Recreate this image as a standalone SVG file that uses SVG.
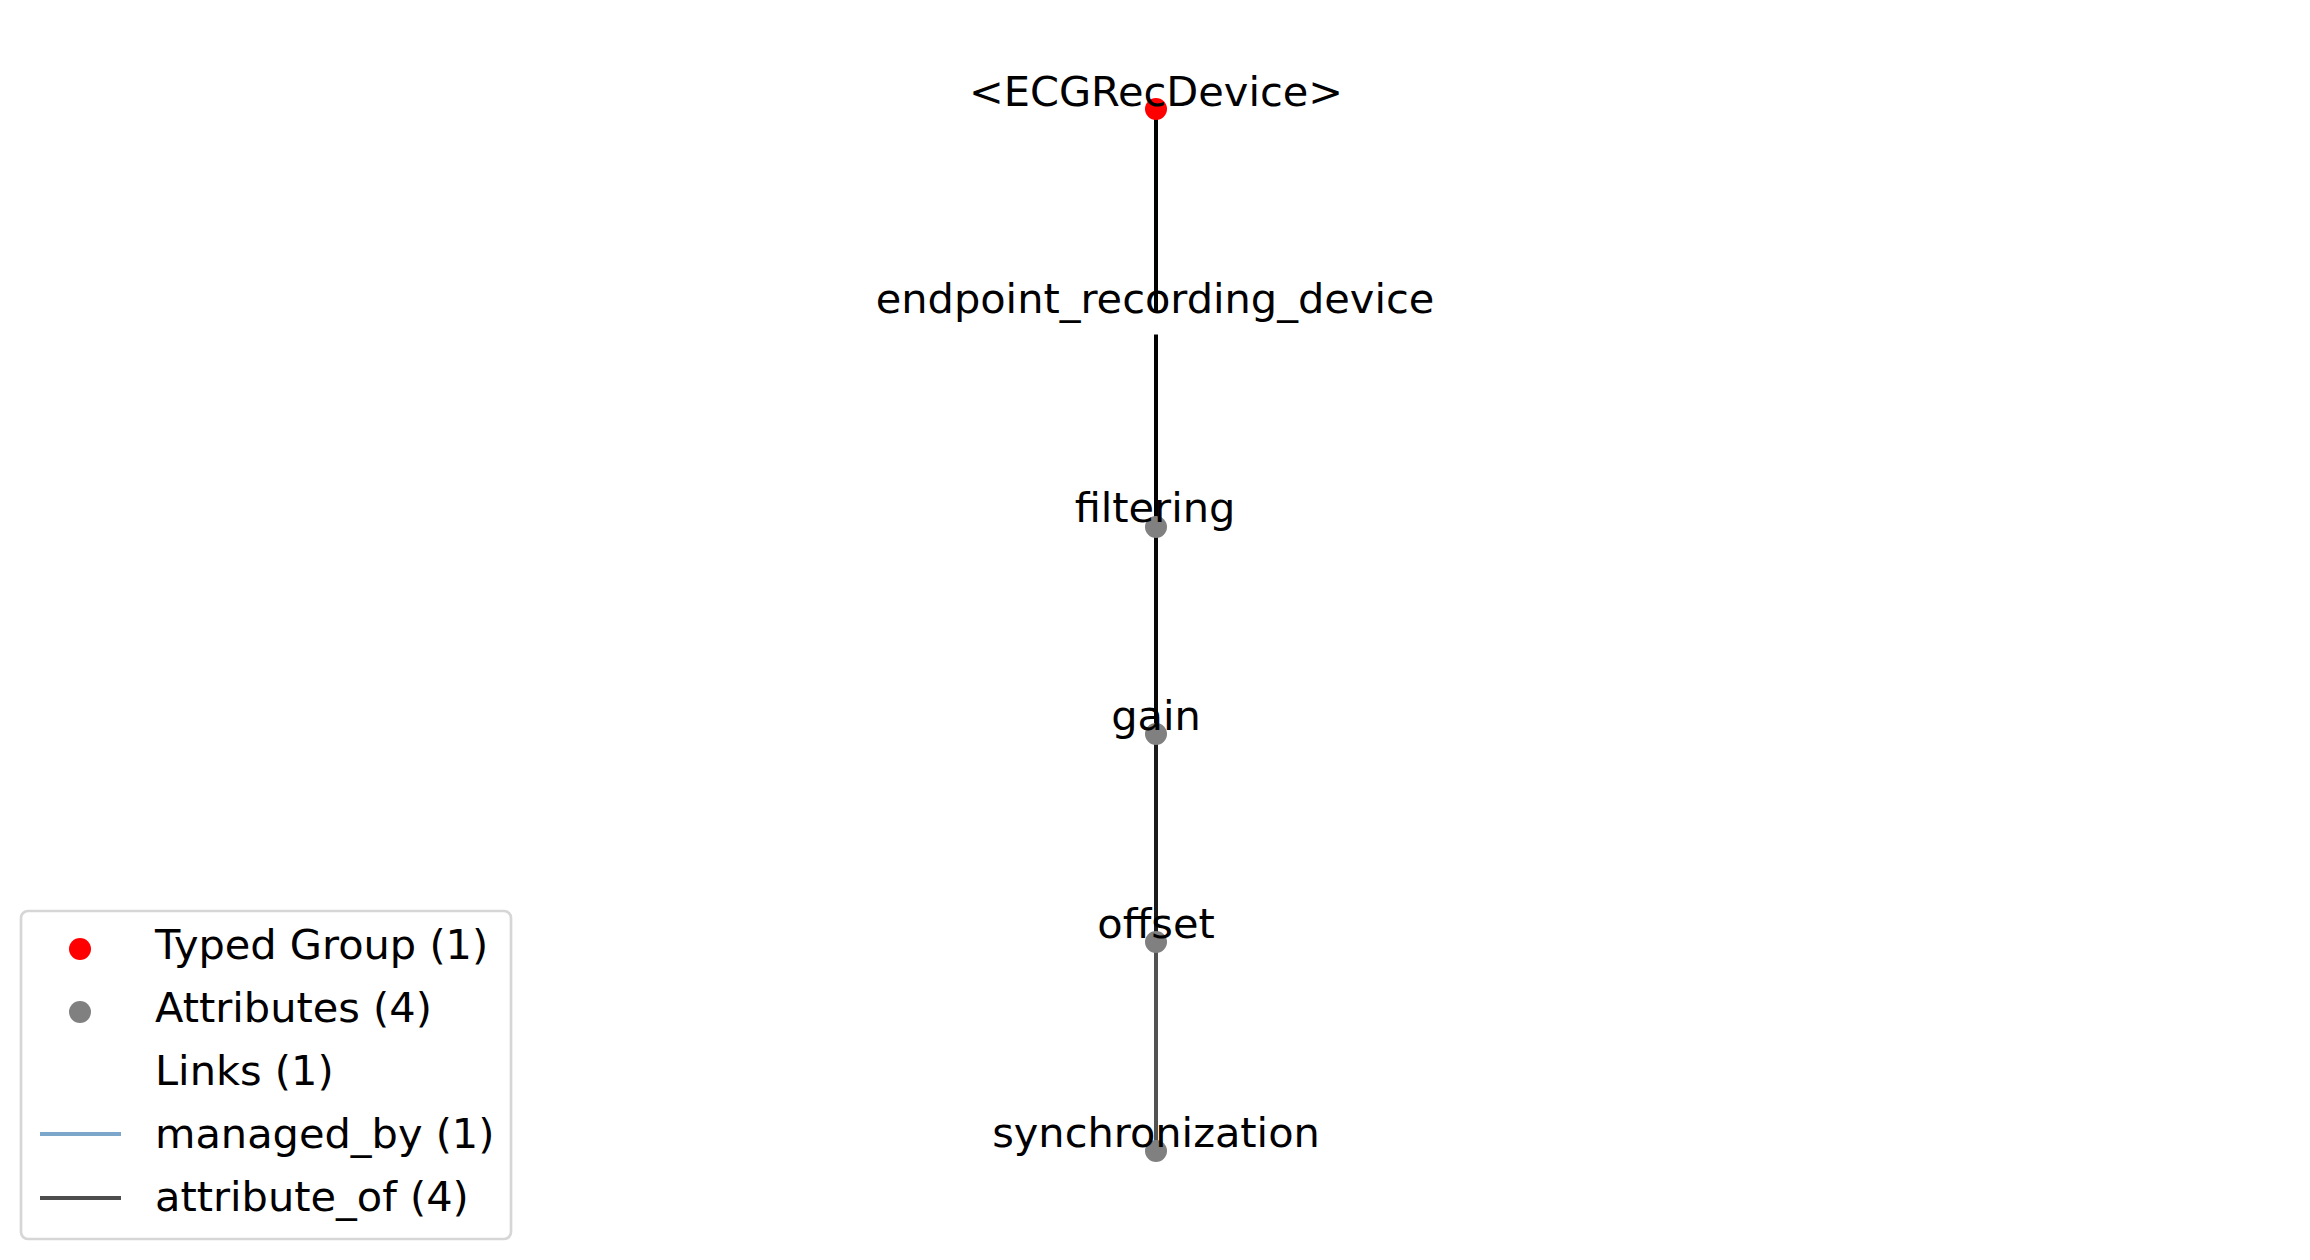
<svg xmlns="http://www.w3.org/2000/svg" width="2310" height="1260" viewBox="0 0 2310 1260">
<style>
text{font-family:"DejaVu Sans","Liberation Sans",sans-serif;font-size:41.5px;fill:#000}
.lbl{text-anchor:middle}
.attr{stroke:#000;stroke-opacity:0.68;stroke-width:4;fill:none}
.mgd{stroke:#4682b4;stroke-opacity:0.7;stroke-width:4;fill:none}
.typed{fill:#ff0000}
.attrnode{fill:#808080}
.linknode{fill:#ffffff}
</style>
<rect x="0" y="0" width="2310" height="1260" fill="#ffffff"/>
<g id="connectors">
<line class="mgd" x1="1156" y1="318" x2="1156" y2="109"/>
<line class="attr" x1="1156" y1="527" x2="1156" y2="109"/>
<line class="attr" x1="1156" y1="734" x2="1156" y2="109"/>
<line class="attr" x1="1156" y1="942" x2="1156" y2="109"/>
<line class="attr" x1="1156" y1="1151" x2="1156" y2="109"/>
</g>
<g id="node-ECGRecDevice">
<circle class="typed" cx="1156" cy="109" r="11"/>
<text class="lbl" x="1156" y="106">&lt;ECGRecDevice&gt;</text>
</g>
<g id="node-endpoint_recording_device">
<circle class="linknode" cx="1156" cy="323" r="11.5"/>
<text class="lbl" x="1155" y="313">endpoint_recording_device</text>
</g>
<g id="node-filtering">
<circle class="attrnode" cx="1156" cy="527" r="11"/>
<text class="lbl" x="1155" y="522">filtering</text>
</g>
<g id="node-gain">
<circle class="attrnode" cx="1156" cy="734" r="11"/>
<text class="lbl" x="1156" y="730">gain</text>
</g>
<g id="node-offset">
<circle class="attrnode" cx="1156" cy="942" r="11"/>
<text class="lbl" x="1156" y="938">offset</text>
</g>
<g id="node-synchronization">
<circle class="attrnode" cx="1156" cy="1151" r="11"/>
<text class="lbl" x="1156" y="1147">synchronization</text>
</g>
<g id="legend">
<rect x="21" y="911" width="490" height="328" rx="7" ry="7" fill="#ffffff" stroke="#d6d6d6" stroke-width="2.7"/>
<circle class="typed" cx="80" cy="949" r="11"/>
<text x="155" y="959">Typed Group (1)</text>
<circle class="attrnode" cx="80" cy="1012" r="11"/>
<text x="155" y="1022">Attributes (4)</text>
<text x="155" y="1085">Links (1)</text>
<line x1="40" y1="1134" x2="121" y2="1134" stroke="#7da7ca" stroke-width="4"/>
<text x="155" y="1148">managed_by (1)</text>
<line x1="40" y1="1198" x2="121" y2="1198" stroke="#4d4d4d" stroke-width="4"/>
<text x="155" y="1211">attribute_of (4)</text>
</g>
</svg>
